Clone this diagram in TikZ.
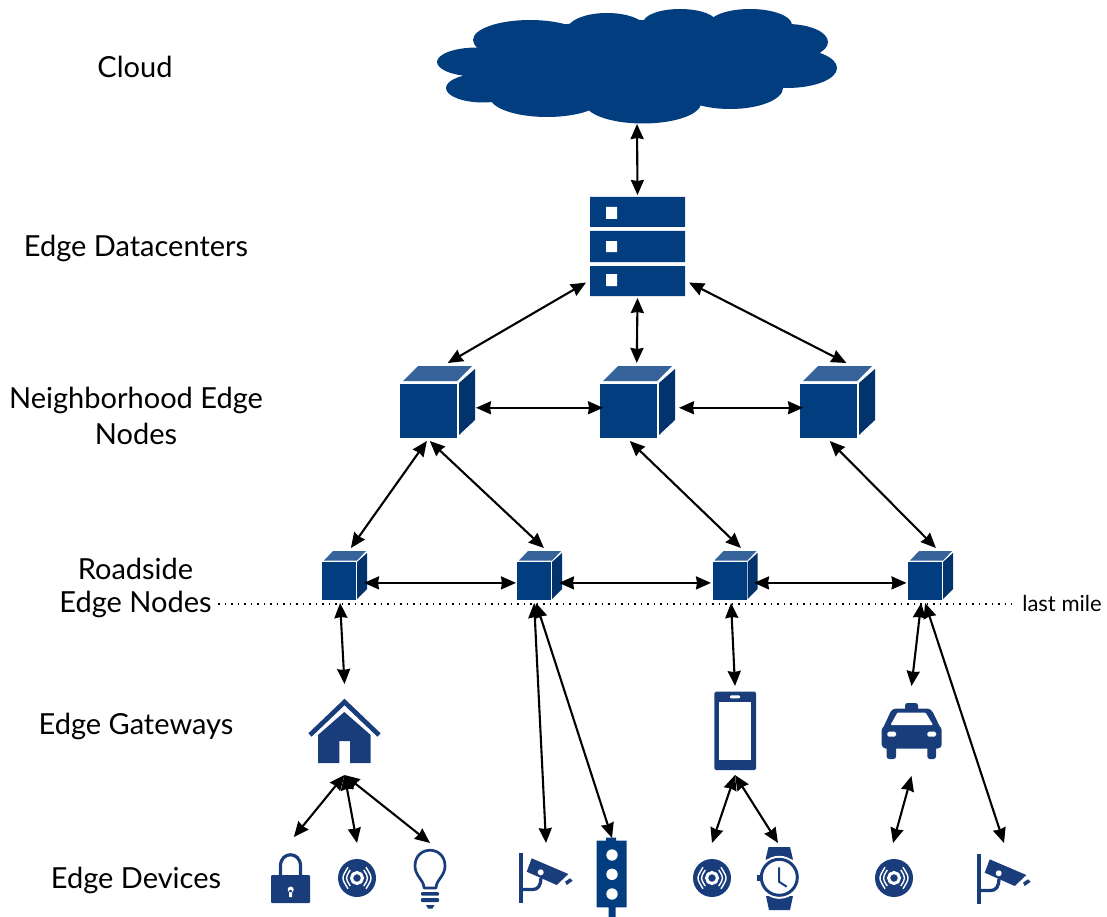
\documentclass[tikz,border=0pt]{standalone}
\usepackage{fontspec}
\setmainfont{Lato}
\usetikzlibrary{arrows.meta}
\definecolor{navy}{HTML}{023D7F}
\definecolor{navytop}{HTML}{35639A}
\definecolor{navyside}{HTML}{03336D}
\definecolor{icon}{HTML}{193D7B}
\tikzset{
  anchorbox/.style={rectangle,inner sep=0pt,outer sep=0pt},
  link/.style={line width=2.1pt,{Stealth[length=15pt,width=13pt,inset=1pt]}-{Stealth[length=15pt,width=13pt,inset=1pt]}},
  lab/.style={font=\fontsize{29}{32}\selectfont,inner sep=0pt,anchor=center},
}
% big cube: origin = front top-left
\newcommand{\bigcube}[2]{\begin{scope}[shift={(#1,#2)}]
  \fill[navy] (0,0) rectangle (56.5,54);
  \fill[navytop] (3,-3) -- (18,-18) -- (72,-18) -- (57,-3) -- cycle;
  \fill[navyside] (59,-1) -- (75,-15) -- (75,36) -- (59,51) -- cycle;
\end{scope}}
\newcommand{\smallcube}[2]{\begin{scope}[shift={(#1,#2)}]
  \fill[navy] (0,0) rectangle (34,38);
  \fill[navytop] (2,-1.5) -- (11,-11) -- (44,-11) -- (35,-1.5) -- cycle;
  \fill[navyside] (35,0) -- (45,-9) -- (45,27) -- (35,37) -- cycle;
\end{scope}}
\newcommand{\disc}[2]{\begin{scope}[shift={(#1,#2)}]
  \fill[icon] (0,0) circle (19);
  \draw[white,line width=3pt] (0,0) circle (5.5);
  \foreach \r in {10.5,14}{
    \draw[white,line width=1.4pt] (0.643*\r,-0.766*\r) .. controls (1.119*\r,0) .. (0.643*\r,0.766*\r);
    \draw[white,line width=1.4pt] (-0.643*\r,-0.766*\r) .. controls (-1.119*\r,0) .. (-0.643*\r,0.766*\r);
  }
\end{scope}}
\newcommand{\camera}[2]{\begin{scope}[shift={(#1,#2)}]
  \fill[icon] (0,0) rectangle (4.3,49.7);
  \draw[icon,line width=3.3pt] (4,36.5) -- (14,36.5) .. controls (19,36.5) and (22,32) .. (22,25);
  \fill[icon] (12.7,5.3) -- (49.3,21) -- (37.7,32) -- (7.7,18.7) -- cycle;
  \fill[white] (21.7,19.3) circle (3);
  \fill[icon] (46,28.7) -- (51,25.3) -- (53.7,27.7) -- (47.7,32) -- cycle;
\end{scope}}
\begin{document}
\begin{tikzpicture}[x=1pt,y=-1pt]
\useasboundingbox (0,0) rectangle (1107,917);
\fill[white] (0,0) rectangle (1107,917);

% labels
\node[lab] (tCloud) at (135,67) {Cloud};
\node[lab] (tDC) at (136,248) {Edge Datacenters};
\node[lab] (tNa) at (136,400) {Neighborhood Edge};
\node[lab] (tNb) at (136,434) {Nodes};
\node[lab] (tRa) at (135.5,568.5) {Roadside};
\node[lab] (tRb) at (135.5,604) {Edge Nodes};
\node[lab] (tG) at (136,726) {Edge Gateways};
\node[lab] (tD) at (136,880) {Edge Devices};
\node[lab,font=\fontsize{22}{24}\selectfont] (tL) at (1062,603) {last mile};

% dotted last-mile line
\coordinate (dotA) at (218,604);
\coordinate (dotB) at (1012,604);
\draw[line width=1.5pt,dash pattern=on 1.6pt off 4.9pt] (dotA) -- (dotB);

% cloud
\fill[navy]
  (530,40) ellipse [x radius=57,y radius=20]
  (607,30) ellipse [x radius=40,y radius=17]
  (680,23) ellipse [x radius=37,y radius=14]
  (750,25) ellipse [x radius=42,y radius=16]
  (787,42) ellipse [x radius=41,y radius=18]
  (787,68) ellipse [x radius=50,y radius=20]
  (730,88) ellipse [x radius=53,y radius=21]
  (643,103) ellipse [x radius=58,y radius=20.5]
  (547,97) ellipse [x radius=57,y radius=20]
  (483,88) ellipse [x radius=37,y radius=14.5]
  (477,62) ellipse [x radius=40,y radius=14.5]
  (640,62) ellipse [x radius=170,y radius=42];

% server
\fill[navy] (590,197) rectangle (685,227) (590,231) rectangle (685,262) (590,266) rectangle (685,296);
\fill[white] (606,207) rectangle (617,219) (606,241) rectangle (617,252) (606,274) rectangle (617,286);

% cubes
\bigcube{400}{384}\bigcube{600}{384}\bigcube{800}{384}
\smallcube{322}{562}\smallcube{517}{562}\smallcube{712.5}{562}\smallcube{908}{562}

% home
\draw[icon,line width=4.7pt,miter limit=10] (310,735) -- (344.5,702) -- (379,735);
\fill[icon] (318,735) -- (344.3,712) -- (370.7,735) -- (370.7,763) -- (350,763) -- (350,741) -- (339.3,741) -- (339.3,763) -- (318,763) -- cycle;

% phone
\fill[icon,rounded corners=1.5pt] (714.3,691.7) rectangle (756,770);
\fill[white] (719.3,702.3) rectangle (750.7,760);
\fill[white,rounded corners=1pt] (730,695.3) rectangle (740,698.3);

% taxi
\fill[icon,rounded corners=2.5pt] (905,703) rectangle (918,712);
\fill[icon,rounded corners=4pt] (892,708.5) -- (931,708.5) -- (942,731) -- (881.7,731) -- cycle;
\fill[white,rounded corners=1pt] (897.5,712.5) -- (925.5,712.5) -- (933,725) -- (890.5,725) -- cycle;
\fill[icon,rounded corners=4pt] (881.7,726) rectangle (941.7,748.5);
\fill[icon,rounded corners=2.5pt] (886.7,742) rectangle (896,759) (927.3,742) rectangle (936,759);
\fill[white,rounded corners=1.5pt] (887.3,731.7) rectangle (896,736.7) (927.3,731.7) rectangle (936,736.7);

% lock
\draw[icon,line width=3.2pt] (280.5,876) -- (280.5,866) .. controls (280.5,851) and (300.5,851) .. (300.5,866) -- (300.5,876);
\fill[icon,rounded corners=1pt] (271,875) rectangle (310,903);
\fill[white] (290.7,889.5) circle (3) (289.2,890) rectangle (292.2,897);

% discs
\disc{357}{878}\disc{712}{878}\disc{894}{878}

% bulb
\draw[icon,line width=2.7pt,line join=round] (424,888) .. controls (424,880) and (415,876) .. (415,866) .. controls (415,845) and (445,845) .. (445,866) .. controls (445,876) and (436,880) .. (436,888) -- cycle;
\fill[icon,rounded corners=1pt] (421,892) rectangle (439,895.5) (421,898) rectangle (439,902);
\fill[icon] (426,905) -- (434.5,905) -- (432.5,908.5) -- (428,908.5) -- cycle;

% cameras
\camera{519}{853}\camera{977}{854}

% traffic light
\fill[navy] (606,837.5) rectangle (616,841) (596.7,840.7) rectangle (626.7,907.3) (608.5,907) rectangle (615.5,917);
\fill[white] (612,855) circle (5.7) (612,874.3) circle (5.7) (612,894) circle (5.7);

% watch
\fill[icon] (768.5,847) -- (790,847) -- (793,859.5) -- (765.5,859.5) -- cycle;
\fill[icon] (766,896) -- (793,896) -- (790,910) -- (769,910) -- cycle;
\fill[white] (779.3,877.3) circle (21.5);
\fill[icon] (757.3,875) rectangle (760.5,880.5);
\draw[icon,line width=3pt,fill=white] (779.3,877.3) circle (18);
\draw[icon,line width=2pt] (779,867.3) -- (779,881.7) -- (786.7,886.7);

% named anchor boxes
\node[anchorbox,minimum width=400pt,minimum height=116pt] (cloud) at (637,66) {};
\node[anchorbox,minimum width=103pt,minimum height=103pt] (srv) at (637.5,246.5) {};
\foreach \n/\x in {n1/439.5,n2/639.5,n3/839.5}
  \node[anchorbox,minimum width=73pt,minimum height=78pt] (\n) at (\x,402) {};
\foreach \n/\x in {r1/342.5,r2/537.5,r3/732.5,r4/928}
  \node[anchorbox,minimum width=43pt,minimum height=55pt] (\n) at (\x,575.5) {};
\node[anchorbox,minimum width=74pt,minimum height=91pt] (home) at (344.5,729.5) {};
\node[anchorbox,minimum width=42pt,minimum height=89pt] (phone) at (735,730.5) {};
\node[anchorbox,minimum width=60pt,minimum height=90pt] (taxi) at (911.5,731) {};
\node[anchorbox,minimum width=40pt,minimum height=66pt] (lock) at (291,870) {};
\node[anchorbox,minimum width=38pt,minimum height=70pt] (discA) at (357,878) {};
\node[anchorbox,minimum width=36pt,minimum height=66pt] (bulb) at (430,876) {};
\node[anchorbox,minimum width=54pt,minimum height=60pt] (camA) at (546,873) {};
\node[anchorbox,minimum width=30pt,minimum height=80pt] (light) at (612,878) {};
\node[anchorbox,minimum width=38pt,minimum height=70pt] (discB) at (712,878) {};
\node[anchorbox,minimum width=41pt,minimum height=68pt] (watch) at (778,877) {};
\node[anchorbox,minimum width=38pt,minimum height=70pt] (discC) at (893,878) {};
\node[anchorbox,minimum width=54pt,minimum height=60pt] (camB) at (1004,873) {};

% connectors
\draw[link] (cloud.south) -- (srv.north);
\draw[link] (srv.215) -- (n1.78);
\draw[link] (srv.south) -- (n2.94);
\draw[link] (srv.325) -- (n3.80);
\draw[link] (n1.-9) -- (n2.189);
\draw[link,shorten <=3pt] (n2.-9) -- (n3.189);
\draw[link] (n1.252) -- (r1.73);
\draw[link] (n1.256) -- (r2.77);
\draw[link] (n2.256) -- (r3.73);
\draw[link] (n3.256) -- (r4.74);
\draw[link] (r1.-19) -- (r2.199);
\draw[link] (r2.-19) -- (r3.199);
\draw[link] (r3.-19) -- (r4.199);
\draw[link] (r1.-95) -- (home.north);
\draw[link] (r2.-97) -- (camA.north);
\draw[link] (r2.-93) -- (light.north);
\draw[link] (r3.-93) -- (phone.north);
\draw[link] (r4.-104) -- (taxi.north);
\draw[link] (r4.-96) -- (camB.north);
\draw[link] (home.south) -- (lock.85);
\draw[link] (home.south) -- (discA.north);
\draw[link] (home.south) -- (bulb.north);
\draw[link] (phone.south) -- (discB.north);
\draw[link] (phone.south) -- (watch.north);
\draw[link] (taxi.south) -- (discC.north);
\end{tikzpicture}
\end{document}
